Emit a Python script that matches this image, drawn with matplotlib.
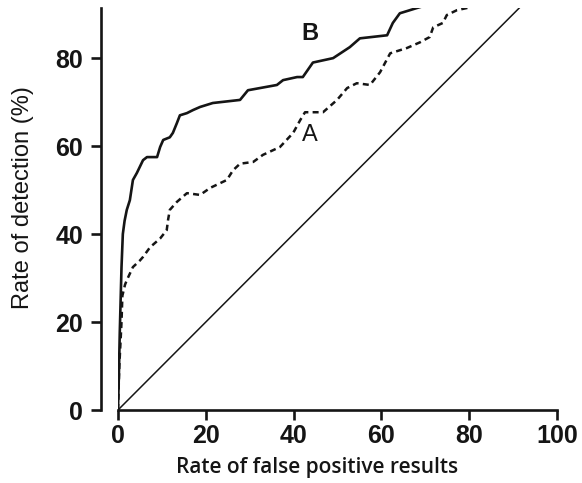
import matplotlib
matplotlib.use('Agg')
import matplotlib.pyplot as plt

plt.rcParams['font.family'] = 'sans-serif'
plt.rcParams['font.sans-serif'] = ['Liberation Sans', 'DejaVu Sans']

# Curve B (solid)
b_fpr = [0, 0.2, 0.4, 0.8, 1.1, 1.5, 2.0, 2.7, 3.4, 4.3, 5.7, 6.6, 8.9, 9.6, 10.3,
         11.8, 12.5, 13.4, 14.1, 15.7, 17.1, 18.7, 21.6, 27.8, 29.6, 36.2, 37.6,
         40.8, 42.1, 44.4, 49.0, 52.8, 55.1, 61.3, 62.6, 64.2, 68.1, 71.8, 80.0]
b_det = [0, 8, 17.5, 32.5, 40, 43, 45.5, 47.7, 52.3, 53.9, 56.8, 57.5, 57.5, 59.8,
         61.4, 62, 63, 65.2, 67, 67.5, 68.2, 68.9, 69.8, 70.5, 72.7, 73.9, 75,
         75.7, 75.7, 79, 80, 82.5, 84.5, 85.2, 88, 90.2, 91.4, 92.5, 93]

# Curve A (dashed)
a_fpr = [0, 0.3, 0.8, 1.0, 1.6, 2.0, 3.4, 5.0, 5.7, 7.3, 9.6, 11.1, 11.4, 11.8,
         13.4, 15.7, 18.7, 21.0, 24.8, 26.2, 27.8, 30.8, 33.0, 36.9, 39.9, 41.5,
         42.6, 46.7, 49.9, 52.2, 54.4, 57.4, 59.7, 62.0, 65.8, 68.8, 71.0, 71.8,
         74.0, 74.9, 77.2, 79.5, 82.0]
a_det = [0, 10, 20, 26, 28.5, 29.5, 32.5, 34, 34.8, 37, 39, 40.9, 43.2, 45.5,
         47.3, 49.3, 48.9, 50.5, 52.3, 54.5, 56, 56.4, 58, 59.8, 63, 65.9, 67.7,
         67.7, 70.5, 73.2, 74.3, 73.9, 76.8, 81.1, 82.3, 83.6, 84.8, 87, 88,
         89.8, 90.9, 91.4, 93]

ref_line = [0, 100]
xticks = [0, 20, 40, 60, 80, 100]
yticks = [0, 20, 40, 60, 80]

W, H = 582, 483
fig = plt.figure(figsize=(W / 100, H / 100), dpi=100)
ax = fig.add_axes([118 / W, (H - 410) / H, (557 - 118) / W, (410 - 8) / H])

ink = '#151515'
ax.plot(ref_line, ref_line, color=ink, lw=1.1)
ax.plot(b_fpr, b_det, color=ink, lw=1.9)
ax.plot(a_fpr, a_det, color=ink, lw=1.8, linestyle=(0, (2.4, 1.7)))

ax.set_xlim(0, 100)
ax.set_ylim(0, 91.4)

for s in ['top', 'right']:
    ax.spines[s].set_visible(False)
ax.spines['left'].set_position(('outward', 12))
for s in ['left', 'bottom']:
    ax.spines[s].set_linewidth(1.9)
    ax.spines[s].set_color(ink)

ax.set_xticks(xticks)
ax.set_yticks(yticks)
ax.tick_params(axis='both', length=7, width=1.9, color=ink, labelsize=18,
               labelcolor=ink)
ax.tick_params(axis='y', pad=6)
ax.tick_params(axis='x', pad=3)
for lab in ax.get_xticklabels() + ax.get_yticklabels():
    lab.set_fontweight('bold')

fig.text(317 / W, 1 - 468 / H, 'Rate of false positive results', ha='center',
         va='center', fontsize=15, family='Open Sans', fontweight='semibold',
         color=ink)
fig.text(23 / W, 1 - 198 / H, 'Rate of detection (%)', ha='center', va='center',
         rotation=90, fontsize=17, color=ink)

ax.text(43.7, 85.5, 'B', ha='center', va='center', fontsize=17,
        fontweight='bold', color=ink)
ax.text(43.7, 62.5, 'A', ha='center', va='center', fontsize=17, color=ink)

fig.savefig('out.png', dpi=100)
